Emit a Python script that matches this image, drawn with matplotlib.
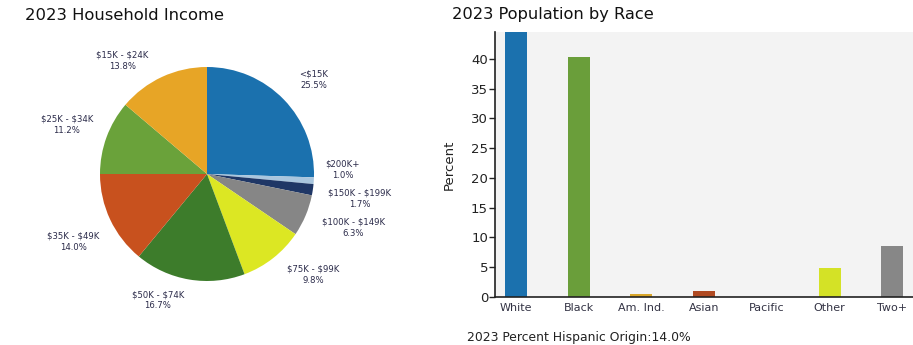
import matplotlib
matplotlib.use("Agg")
import matplotlib.pyplot as plt
import numpy as np

# ---- data ----
income_labels = ["<$15K", "$200K+", "$150K - $199K", "$100K - $149K", "$75K - $99K",
                 "$50K - $74K", "$35K - $49K", "$25K - $34K", "$15K - $24K"]
income_pct = [25.5, 1.0, 1.7, 6.3, 9.8, 16.7, 14.0, 11.2, 13.8]

race_cats = ["White", "Black", "Am. Ind.", "Asian", "Pacific", "Other", "Two+"]
race_pct = [44.5, 40.3, 0.55, 1.0, 0.0, 4.8, 8.6]
hispanic_pct = 14.0

# ---- styles ----
pie_colors = ["#1b71ae", "#a9c6de", "#1f3766", "#868686", "#dce723",
              "#3d7c2b", "#c8511e", "#6aa23a", "#e7a526"]
bar_colors = ["#1b71ae", "#6a9e3a", "#d9a62a", "#b04a22", "#3aa0c8", "#d4e226", "#878787"]
# label positions (pie radius units) for the slice labels
label_pos = [(1.00, 0.88), (1.27, 0.04), (1.43, -0.23), (1.37, -0.50), (0.99, -0.94),
             (-0.46, -1.18), (-1.25, -0.63), (-1.31, 0.46), (-0.79, 1.06)]

W, H = 913, 345
fig = plt.figure(figsize=(W / 100, H / 100), dpi=100)
fig.patch.set_facecolor("white")

# ---- pie ----
R = 107.0
cx, cy = 207, 174
pw, ph = 400, 320
axp = fig.add_axes([(cx - pw / 2) / W, (H - cy - ph / 2) / H, pw / W, ph / H])
axp.pie(income_pct, colors=pie_colors, startangle=90, counterclock=False,
        wedgeprops=dict(linewidth=0), radius=1.0)
axp.set_xlim(-pw / 2 / R, pw / 2 / R)
axp.set_ylim(-ph / 2 / R, ph / 2 / R)
axp.set_aspect("equal")
axp.axis("off")
for lab, v, (lx, ly) in zip(income_labels, income_pct, label_pos):
    axp.text(lx, ly, f"{lab}\n{v:.1f}%", ha="center", va="center",
             fontsize=6.1, color="#2b2b4a", linespacing=1.35, parse_math=False)

fig.text(25 / W, 1 - 15 / H, "2023 Household Income", ha="left", va="center",
         fontsize=11.8, color="#111111")

# ---- bars ----
left, right, top, bottom = 495, 913, 32, 297
axb = fig.add_axes([left / W, (H - bottom) / H, (right - left) / W, (bottom - top) / H])
axb.set_facecolor("#f3f3f3")
x = np.arange(len(race_cats))
axb.bar(x, race_pct, width=0.35, color=bar_colors)
axb.set_xlim(-0.335, 6.33)
axb.set_ylim(0, 44.5)
axb.set_yticks(range(0, 41, 5))
axb.set_xticks(x)
axb.set_xticklabels(race_cats, fontsize=8, color="#333344")
axb.tick_params(axis="x", length=0, pad=4)
axb.tick_params(axis="y", length=4, width=1, labelsize=9.5, colors="#222222", pad=1)
for s in ["top", "right"]:
    axb.spines[s].set_visible(False)
axb.spines["left"].set_color("#222222")
axb.spines["bottom"].set_color("#222222")
axb.spines["left"].set_linewidth(1.2)
axb.spines["bottom"].set_linewidth(1.2)
axb.set_ylabel("Percent", fontsize=9.5, color="#222222")
axb.yaxis.set_label_coords(-0.095, 0.5)

fig.text(452 / W, 1 - 15 / H, "2023 Population by Race", ha="left", va="center",
         fontsize=11.7, color="#111111")
fig.text(467 / W, 1 - 337 / H, f"2023 Percent Hispanic Origin:{hispanic_pct:.1f}%",
         ha="left", va="center", fontsize=8.9, color="#222222")

fig.savefig("out.png", dpi=100)
